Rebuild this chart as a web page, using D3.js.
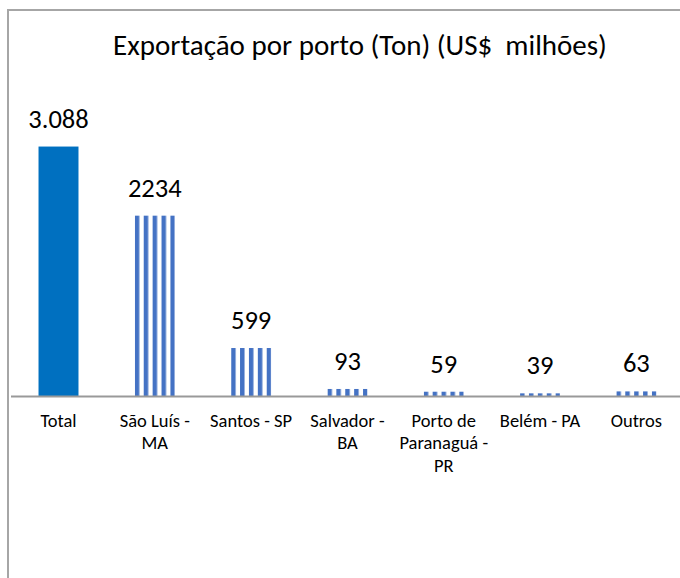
<!DOCTYPE html>
<html>
<head>
<meta charset="utf-8">
<script src="https://cdn.jsdelivr.net/npm/d3@7"></script>
<style>
  html, body { margin: 0; padding: 0; background: #fff; overflow: hidden; }
  svg { display: block; font-family: Carlito, Calibri, Lato, sans-serif; font-weight: 300; }
</style>
</head>
<body>
<svg id="chart" width="680" height="578"></svg>
<script>
var categories = ["Total", "São Luís - MA", "Santos - SP", "Salvador - BA", "Porto de Paranaguá - PR", "Belém - PA", "Outros"];
var values = [3088, 2234, 599, 93, 59, 39, 63];
var valueLabels = ["3.088", "2234", "599", "93", "59", "39", "63"];
var chartTitle = "Exportação por porto (Ton) (US$  milhões)";

var svg = d3.select("#chart");
var baseline = 396.5;

// chart frame: only the left and top edges fall inside the window
svg.append("path")
    .attr("d", "M8,578V10H680")
    .attr("fill", "none")
    .attr("stroke", "#a6a6a6")
    .attr("stroke-width", 2);

svg.append("text")
    .attr("x", 360)
    .attr("y", 55)
    .attr("text-anchor", "middle")
    .style("font-size", "29px")
    .style("fill", "#000")
    .style("white-space", "pre")
    .text(chartTitle);

var xScale = d3.scaleBand()
    .domain(categories)
    .range([10.35, 684.5])
    .paddingInner(0.585)
    .paddingOuter(0.2925);

var yScale = d3.scaleLinear()
    .domain([0, 3500])
    .range([baseline, 113.2]);

// one stripe pattern per bar, so stripes start at the bar edge
var defs = svg.append("defs");
categories.forEach(function (c, i) {
    var p = defs.append("pattern")
        .attr("id", "stripe" + i)
        .attr("patternUnits", "userSpaceOnUse")
        .attr("x", xScale(c))
        .attr("y", 0)
        .attr("width", 8.9)
        .attr("height", 10);
    p.append("rect")
        .attr("width", 4.5)
        .attr("height", 10)
        .attr("fill", "#4472C4");
});

svg.selectAll(".bar")
    .data(values)
    .enter().append("rect")
    .attr("class", "bar")
    .attr("x", function (d, i) { return xScale(categories[i]); })
    .attr("width", xScale.bandwidth())
    .attr("y", function (d) { return yScale(d); })
    .attr("height", function (d) { return baseline - yScale(d); })
    .attr("fill", function (d, i) { return i === 0 ? "#0070C0" : "url(#stripe" + i + ")"; });

svg.selectAll(".vlabel")
    .data(values)
    .enter().append("text")
    .attr("class", "vlabel")
    .attr("x", function (d, i) { return xScale(categories[i]) + xScale.bandwidth() / 2; })
    .attr("y", function (d) { return yScale(d) - 19; })
    .attr("text-anchor", "middle")
    .style("font-size", "26.5px")
    .style("fill", "#000")
    .text(function (d, i) { return valueLabels[i]; });

// x axis: only the line and wrapped category labels
var xAxis = svg.append("g")
    .attr("transform", "translate(0," + baseline + ")")
    .call(d3.axisBottom(xScale).tickSize(0).tickPadding(0));

xAxis.select(".domain")
    .attr("d", "M11,0H680")
    .attr("stroke", "#999")
    .attr("stroke-width", 2);

xAxis.selectAll(".tick text")
    .attr("y", 30)
    .attr("dy", 0)
    .style("font-family", "Carlito, Calibri, Lato, sans-serif")
    .style("font-size", "18.5px")
    .style("fill", "#000")
    .call(wrap, 89);

function wrap(text, width) {
    text.each(function () {
        var t = d3.select(this),
            words = t.text().split(/\s+/),
            line = [],
            lineNo = 0,
            tspan = t.text(null).append("tspan").attr("x", 0).attr("y", 30.2);
        words.forEach(function (w) {
            line.push(w);
            tspan.text(line.join(" "));
            if (tspan.node().getComputedTextLength() > width && line.length > 1) {
                line.pop();
                tspan.text(line.join(" "));
                line = [w];
                lineNo++;
                tspan = t.append("tspan").attr("x", 0).attr("y", 30.2 + lineNo * 22.6).text(w);
            }
        });
    });
}
</script>
</body>
</html>
